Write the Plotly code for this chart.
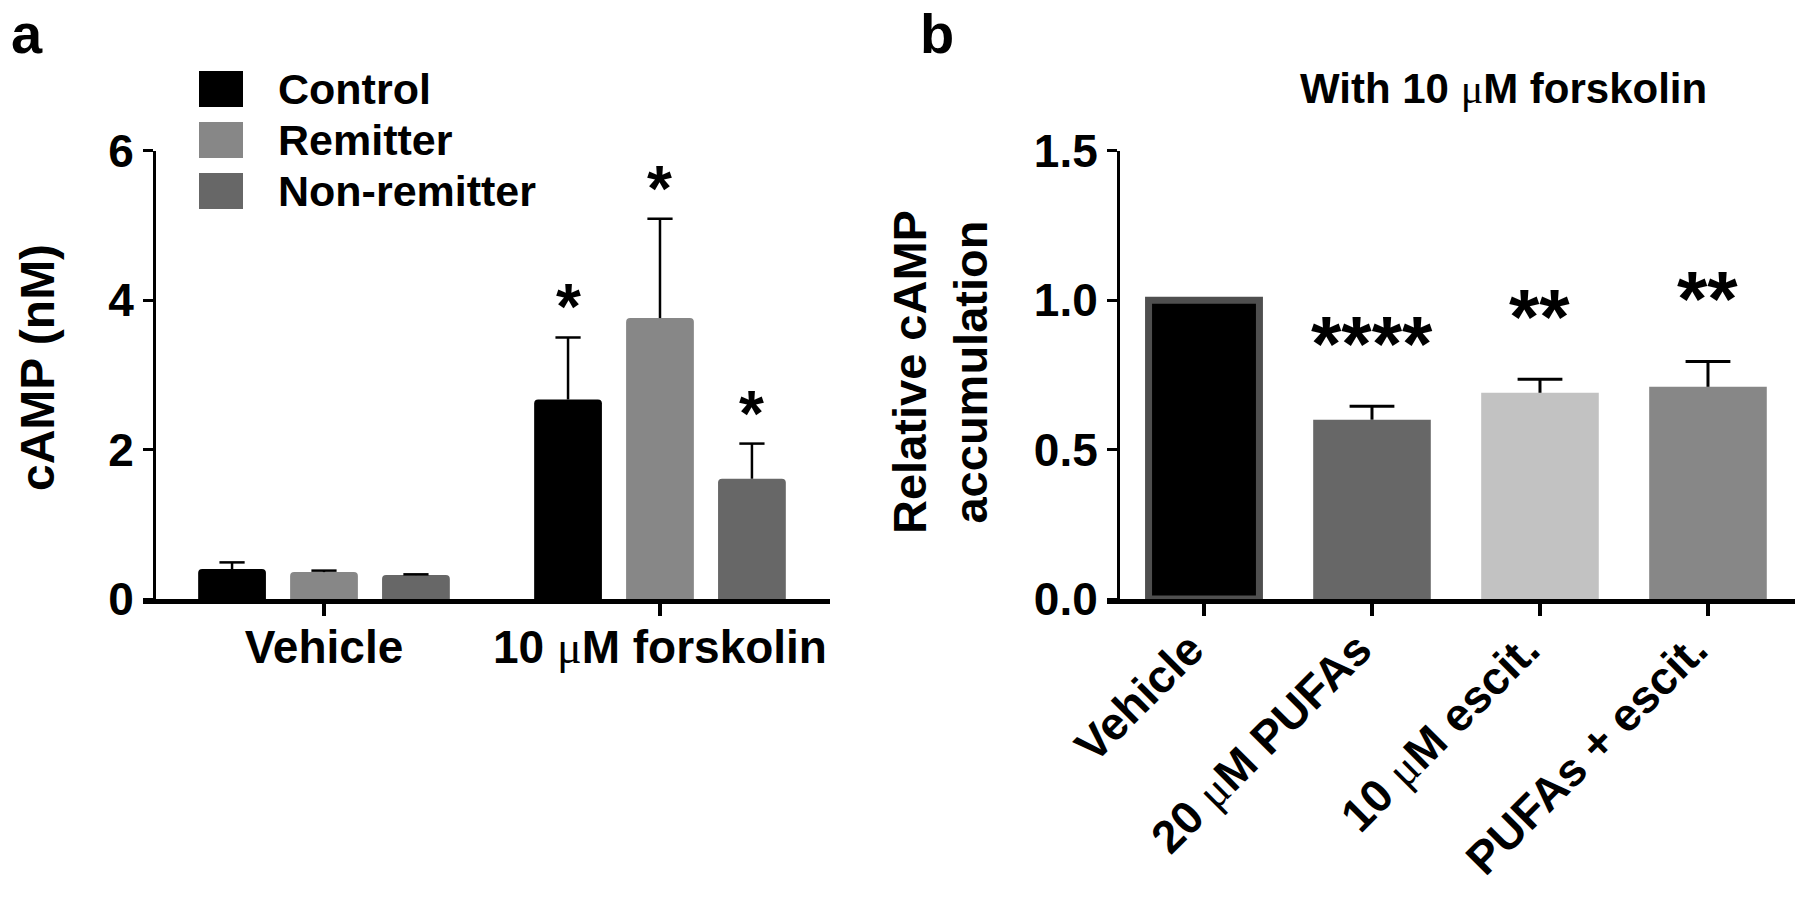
import plotly.graph_objects as go

W, H = 1800, 898

# ---------------- data: panel a ----------------
groups_a = ["Vehicle", "10 μM forskolin"]
group_labels_a = ["Vehicle", "10 <span style='font-family:Liberation Serif;font-weight:normal'>μ</span>M forskolin"]
series_a = ["Control", "Remitter", "Non-remitter"]
control_vals = [0.40, 2.67]
remitter_vals = [0.36, 3.76]
nonrem_vals = [0.32, 1.61]
control_err = [0.09, 0.83]
remitter_err = [0.02, 1.33]
nonrem_err = [0.01, 0.47]
control_sig = ["", "*"]
remitter_sig = ["", "*"]
nonrem_sig = ["", "*"]
yticks_a = [0, 2, 4, 6]

# ---------------- data: panel b ----------------
cats_b = ["Vehicle", "20 μM PUFAs", "10 μM escit.", "PUFAs + escit."]
cat_labels_b = ["Vehicle",
                "20 <span style='font-family:Liberation Serif;font-weight:normal'>μ</span>M PUFAs",
                "10 <span style='font-family:Liberation Serif;font-weight:normal'>μ</span>M escit.",
                "PUFAs + escit."]
vals_b = [1.00, 0.60, 0.69, 0.71]
err_b = [None, 0.045, 0.045, 0.085]
sig_b = ["", "****", "**", "**"]
yticks_b = [0.0, 0.5, 1.0, 1.5]

# ---------------- style ----------------
FONT = "Liberation Sans, Arial, sans-serif"
colors_a = ["#000000", "#878787", "#676767"]
colors_b = ["#000000", "#676767", "#c2c2c2", "#878787"]
border_b = ["#4f4f4f", "#676767", "#c2c2c2", "#878787"]
border_w_b = [7, 0, 0, 0]
width_b = [0.66, 0.70, 0.70, 0.70]
bargap = 0.179
bargroupgap = 0.263

def px(x):
    return x / W

def py(y):
    return 1 - y / H

dom_y = [py(599), py(150.7)]
dom_xa = [px(156), px(830)]
dom_xb = [px(1120), px(1795)]

fig = go.Figure()

series_vals = [control_vals, remitter_vals, nonrem_vals]
series_err = [control_err, remitter_err, nonrem_err]
series_sig = [control_sig, remitter_sig, nonrem_sig]
xa = list(range(len(groups_a)))
nser = len(series_a)
slot = (1 - bargap) / nser

annotations = []
for k, (name, vals, errs, sigs, col) in enumerate(zip(series_a, series_vals, series_err, series_sig, colors_a)):
    fig.add_trace(go.Bar(
        x=xa, y=vals, name=name, showlegend=False,
        marker=dict(color=col, line=dict(width=0), cornerradius=4),
        xaxis="x", yaxis="y"))
    off = (k - (nser - 1) / 2) * slot
    xs = [i + off for i in xa]
    tops = [v + e for v, e in zip(vals, errs)]
    fig.add_trace(go.Scatter(
        x=xs, y=tops, mode="markers", showlegend=False, hoverinfo="skip",
        marker=dict(symbol="line-ew", size=18, color="black", line=dict(width=2.5, color="black")),
        error_y=dict(type="data", symmetric=False, array=[0] * len(tops), arrayminus=errs,
                     width=0, thickness=2.5, color="black"),
        xaxis="x", yaxis="y"))
    for xx, t, s in zip(xs, tops, sigs):
        if s:
            annotations.append(dict(x=xx, y=t, xref="x", yref="y", text=s, showarrow=False,
                                    yanchor="middle", yshift=30,
                                    font=dict(family=FONT, size=64, color="black", weight="bold")))

xb = list(range(len(cats_b)))
fig.add_trace(go.Bar(
    x=xb, y=vals_b, width=width_b, showlegend=False,
    marker=dict(color=colors_b, line=dict(color=border_b, width=border_w_b)),
    xaxis="x2", yaxis="y2"))
tops_b = [v + e if e is not None else None for v, e in zip(vals_b, err_b)]
fig.add_trace(go.Scatter(
    x=xb, y=tops_b, mode="markers", showlegend=False, hoverinfo="skip",
    marker=dict(symbol="line-ew", size=32, color="black", line=dict(width=3, color="black")),
    error_y=dict(type="data", symmetric=False, array=[0] * len(xb),
                 arrayminus=[e if e is not None else 0 for e in err_b],
                 width=0, thickness=3, color="black"),
    xaxis="x2", yaxis="y2"))
for xx, t, s in zip(xb, tops_b, sig_b):
    if s:
        annotations.append(dict(x=xx, y=t, xref="x2", yref="y2", text=s, showarrow=False,
                                yanchor="middle", yshift=62,
                                font=dict(family=FONT, size=78, color="black", weight="bold")))

# legend (custom)
shapes = []
leg_rows = [89, 140, 191]
for name, col, yc in zip(series_a, colors_a, leg_rows):
    shapes.append(dict(type="rect", xref="paper", yref="paper",
                       x0=px(199), x1=px(243), y0=py(yc + 18), y1=py(yc - 18),
                       fillcolor=col, line=dict(width=0)))
    annotations.append(dict(x=px(276), y=py(yc), xref="paper", yref="paper", text=name,
                            showarrow=False, xanchor="left", yanchor="middle",
                            font=dict(family=FONT, size=43, color="black", weight="bold")))

# small extension of each x-axis line to the left of the y-axis (GraphPad style)
for xr, yr, dom in (("x domain", "y domain", dom_xa), ("x2 domain", "y2 domain", dom_xb)):
    span = (dom[1] - dom[0]) * W
    shapes.append(dict(type="line", xref=xr, yref=yr, x0=-13 / span, x1=0.005,
                       ysizemode="pixel", yanchor=0, y0=-2.5, y1=-2.5,
                       line=dict(color="black", width=5)))

# panel letters, titles
annotations += [
    dict(x=px(27), y=py(34), xref="paper", yref="paper", text="a", showarrow=False,
         xanchor="center", yanchor="middle", font=dict(family=FONT, size=56, color="black", weight="bold")),
    dict(x=px(937), y=py(34), xref="paper", yref="paper", text="b", showarrow=False,
         xanchor="center", yanchor="middle", font=dict(family=FONT, size=56, color="black", weight="bold")),
    dict(x=px(1503), y=py(88), xref="paper", yref="paper",
         text="With 10 <span style='font-family:Liberation Serif;font-weight:normal'>μ</span>M forskolin",
         showarrow=False, xanchor="center", yanchor="middle",
         font=dict(family=FONT, size=42, color="black", weight="bold")),
    dict(x=px(37), y=py(368), xref="paper", yref="paper", text="cAMP (nM)", showarrow=False,
         textangle=-90, xanchor="center", yanchor="middle",
         font=dict(family=FONT, size=48, color="black", weight="bold")),
    dict(x=px(940), y=py(372), xref="paper", yref="paper", text="Relative cAMP<br>accumulation",
         showarrow=False, textangle=-90, xanchor="center", yanchor="middle",
         font=dict(family=FONT, size=47, color="black", weight="bold")),
]

yax_common = dict(showline=True, linewidth=3, linecolor="black", ticks="outside", ticklen=10,
                  tickwidth=3, tickcolor="black", showgrid=False, zeroline=False, automargin=False,
                  tickfont=dict(family=FONT, size=46, color="black", weight="bold"))
xax_common = dict(showline=True, linewidth=5, linecolor="black", ticks="outside", ticklen=12,
                  tickwidth=4, tickcolor="black", showgrid=False, zeroline=False, automargin=False)

fig.update_layout(
    width=W, height=H,
    margin=dict(l=0, r=0, t=0, b=0, autoexpand=False),
    paper_bgcolor="white", plot_bgcolor="white",
    barmode="group", bargap=bargap, bargroupgap=bargroupgap,
    showlegend=False,
    xaxis=dict(domain=dom_xa, range=[-0.5, 1.506], anchor="y",
               tickvals=xa, ticktext=group_labels_a, ticklabelstandoff=-8,
               tickfont=dict(family=FONT, size=46, color="black", weight="bold"), **xax_common),
    yaxis=dict(domain=dom_y, range=[0, 6], anchor="x", tickvals=yticks_a, **yax_common),
    xaxis2=dict(domain=dom_xb, range=[-0.5, 3.518], anchor="y2",
                tickvals=xb, ticktext=cat_labels_b, tickangle=-45,
                ticklabelstandoff=-12, ticklabelshift=-14,
                tickfont=dict(family=FONT, size=46, color="black", weight="bold"), **xax_common),
    yaxis2=dict(domain=dom_y, range=[0, 1.5], anchor="x2", tickvals=yticks_b, tickformat=".1f",
                **yax_common),
    annotations=annotations,
    shapes=shapes,
)

fig.write_html("out.html", config={"displayModeBar": False},
               post_script="document.body.style.margin='0';document.body.style.overflow='hidden';")
